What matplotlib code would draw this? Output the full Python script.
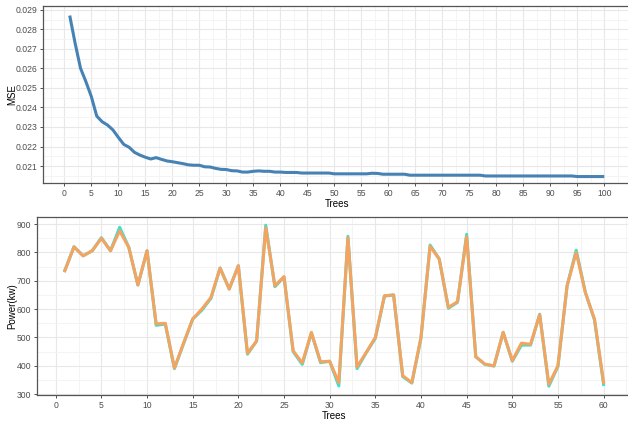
import numpy as np
import matplotlib
matplotlib.use("Agg")
import matplotlib.pyplot as plt
from matplotlib.ticker import MultipleLocator

plt.rcParams['font.family'] = ['Liberation Sans', 'DejaVu Sans']

# ---- data: top panel (OOB error vs number of trees)
trees = list(range(1, 101))
mse = [0.02871, 0.02729, 0.02601, 0.02532, 0.02456, 0.02356, 0.02327, 0.02310, 0.02285, 0.02247,
       0.02211, 0.02196, 0.02170, 0.02156, 0.02145, 0.02136, 0.02143, 0.02134, 0.02126, 0.02122,
       0.02117, 0.02112, 0.02106, 0.02104, 0.02104, 0.02096, 0.02095, 0.02088, 0.02083, 0.02082,
       0.02076, 0.02075, 0.02069, 0.02069, 0.02073, 0.02075, 0.02073, 0.02073, 0.02069, 0.02069,
       0.02067, 0.02067, 0.02067, 0.02064, 0.02064, 0.02064, 0.02064, 0.02064, 0.02064, 0.02060,
       0.02060, 0.02060, 0.02060, 0.02060, 0.02060, 0.02060, 0.02063, 0.02062, 0.02058, 0.02058,
       0.02058, 0.02058, 0.02058, 0.02053, 0.02053, 0.02053, 0.02053, 0.02053, 0.02053, 0.02053,
       0.02053, 0.02053, 0.02053, 0.02053, 0.02053, 0.02053, 0.02053, 0.02049, 0.02049, 0.02049,
       0.02049, 0.02049, 0.02049, 0.02049, 0.02049, 0.02049, 0.02049, 0.02049, 0.02049, 0.02049,
       0.02049, 0.02049, 0.02049, 0.02049, 0.02046, 0.02046, 0.02046, 0.02046, 0.02046, 0.02046]

# ---- data: bottom panel (actual vs predicted power)
samples = list(range(1, 61))
actual = [737, 820, 788, 806, 852, 806, 889, 818, 685, 806,
          543, 547, 390, 478, 565, 596, 638, 745, 671, 753,
          441, 487, 896, 679, 713, 450, 405, 516, 411, 416,
          329, 857, 390, 446, 497, 646, 650, 362, 339, 498,
          826, 777, 603, 624, 864, 432, 405, 399, 518, 416,
          473, 473, 582, 328, 398, 682, 808, 659, 562, 334]
predicted = [735, 820, 788, 806, 850, 806, 876, 818, 685, 806,
             548, 550, 392, 480, 565, 600, 641, 745, 671, 753,
             444, 488, 888, 682, 715, 453, 410, 518, 414, 416,
             341, 852, 396, 447, 500, 647, 650, 365, 341, 500,
             822, 776, 606, 626, 856, 432, 406, 400, 518, 418,
             480, 476, 580, 335, 400, 682, 800, 659, 565, 341]

W, H = 628, 421
fig = plt.figure(figsize=(W / 100, H / 100), dpi=100)

def style(ax):
    ax.set_facecolor('white')
    ax.grid(which='major', color='#E8E8E8', linewidth=0.8, zorder=0)
    ax.grid(which='minor', color='#F3F3F3', linewidth=0.6, zorder=0)
    ax.set_axisbelow(True)
    for s in ax.spines.values():
        s.set_color('#555555')
        s.set_linewidth(0.9)
    ax.tick_params(which='major', length=2.5, width=0.6, color='#333333',
                   labelsize=6.2, labelcolor='#4D4D4D', pad=1.5)
    ax.tick_params(which='minor', length=0)

# top panel
ax1_left, ax1_right = 43, 631
ax1 = fig.add_axes([ax1_left / W, 1 - 183 / H, (ax1_right - ax1_left) / W, 177 / H])
style(ax1)
ax1.plot(trees, mse, color='#4682B4', linewidth=2.2, solid_capstyle='butt', zorder=3)
ax1.set_xlim(-3.95, 104.95)
ax1.set_ylim(0.02013, 0.02920)
ax1.xaxis.set_major_locator(MultipleLocator(5))
ax1.xaxis.set_minor_locator(MultipleLocator(2.5))
yt = np.arange(0.021, 0.02901, 0.001)
ax1.set_yticks(yt)
ax1.set_yticklabels([f'{v:.3f}' for v in yt])
ax1.yaxis.set_minor_locator(MultipleLocator(0.0005))
ax1.set_xlabel('Trees', fontsize=7, labelpad=1)
ax1.set_ylabel('MSE', fontsize=7)
ax1.yaxis.set_label_coords((17 - ax1_left) / (ax1_right - ax1_left), 0.5)

# bottom panel
ax2_left, ax2_right = 37, 631
ax2 = fig.add_axes([ax2_left / W, 1 - 395 / H, (ax2_right - ax2_left) / W, 178 / H])
style(ax2)
ax2.plot(samples, actual, color='#40E0D0', linewidth=2.2, zorder=3)
ax2.plot(samples, predicted, color='#F4A460', linewidth=2.2, zorder=4)
ax2.set_xlim(-2.05, 63.0)
ax2.set_ylim(297, 925)
ax2.xaxis.set_major_locator(MultipleLocator(5))
ax2.xaxis.set_minor_locator(MultipleLocator(2.5))
ax2.set_yticks(range(300, 901, 100))
ax2.yaxis.set_minor_locator(MultipleLocator(50))
ax2.set_xlabel('Trees', fontsize=7, labelpad=1)
ax2.set_ylabel('Power(kw)', fontsize=7)
ax2.yaxis.set_label_coords((17 - ax2_left) / (ax2_right - ax2_left), 0.5)

fig.savefig('out.png', dpi=100)
